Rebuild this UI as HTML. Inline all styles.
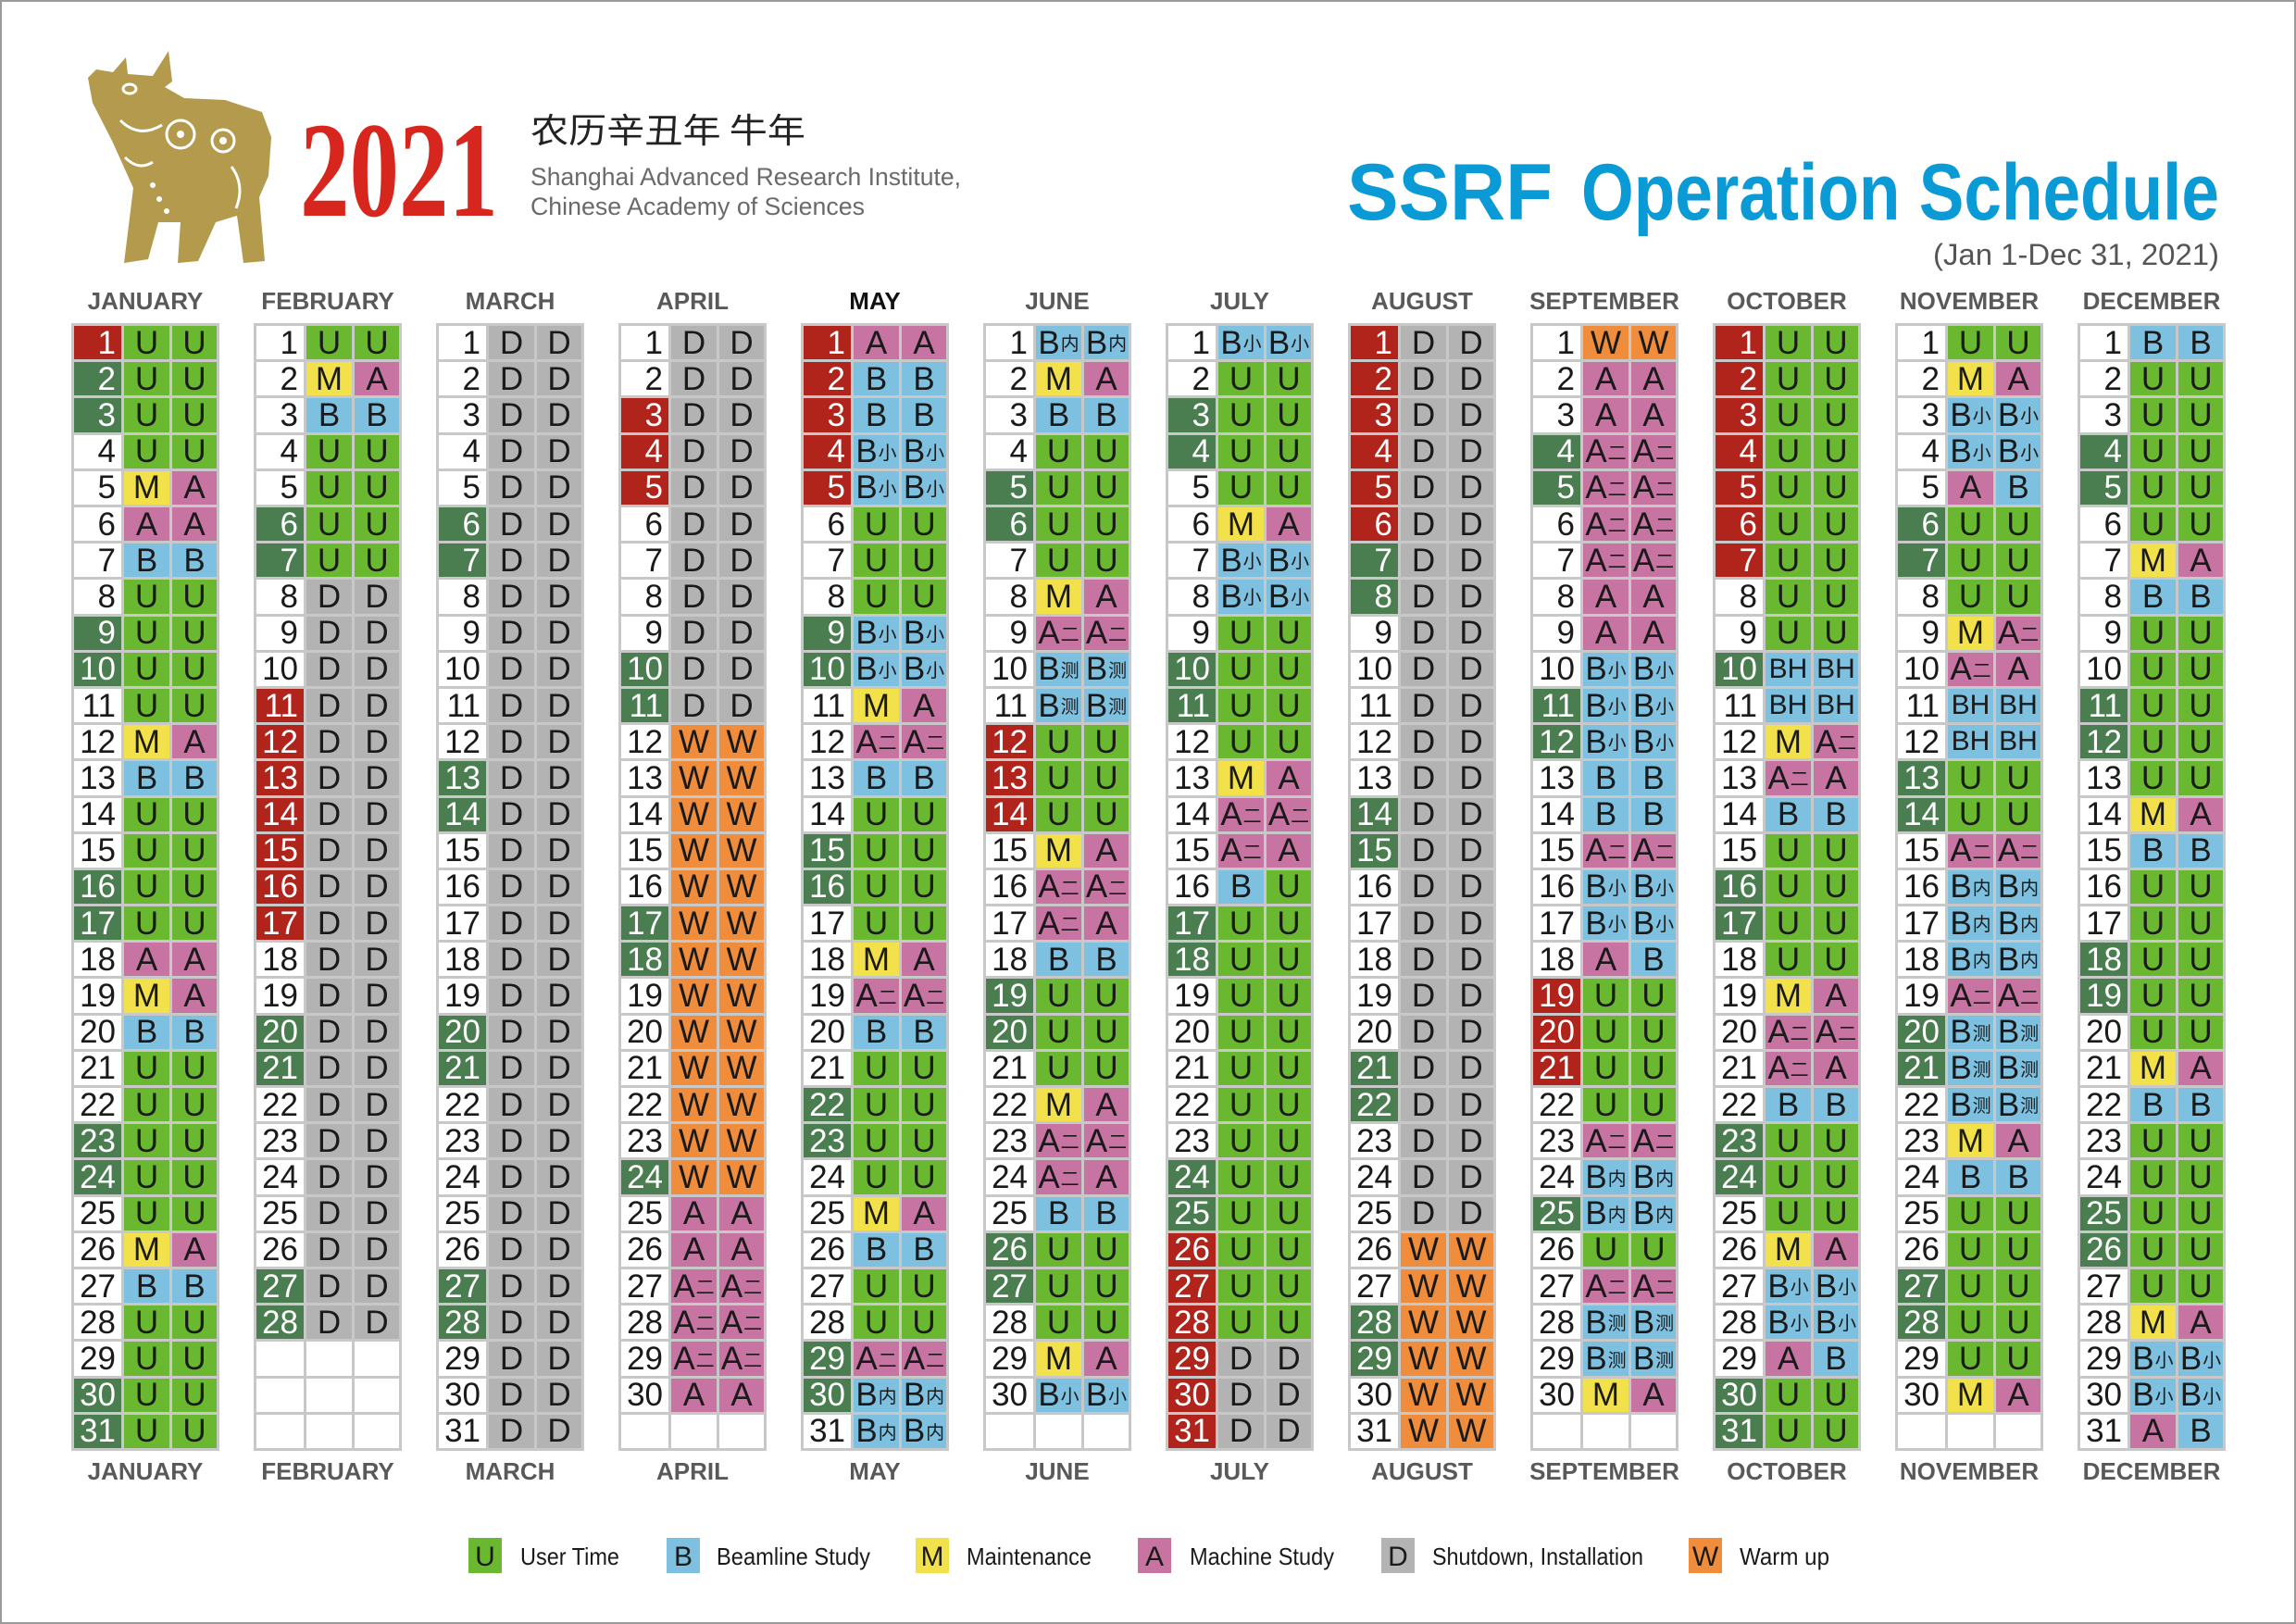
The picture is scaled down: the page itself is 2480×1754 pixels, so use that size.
<!DOCTYPE html>
<html><head><meta charset="utf-8"><style>
body{margin:0;width:2480px;height:1754px;background:#fff;position:relative;overflow:hidden;font-family:"Liberation Sans","Noto Sans CJK SC",sans-serif}
#frame{position:absolute;left:0;top:0;width:2476px;height:1750px;border:2px solid #9a9a9a}
svg.top{position:absolute;left:0;top:0}
.mo{position:absolute;top:349px;width:154px;height:1212px;padding:3px;background:#c8c8c8;display:grid;grid-template-columns:51px 49px 48px;grid-template-rows:repeat(31,1fr);gap:3px}
.mo>*{display:flex;align-items:center;justify-content:center;font-size:35px;color:#1a1a1a;font-style:normal;font-weight:normal;text-decoration:none;line-height:1;overflow:hidden;white-space:nowrap}
.mo>i{background:#fff;justify-content:flex-end;padding-right:6px}
.mo>i.h{background:#b0241c;color:#fff}
.mo>i.w{background:#4a7d4f;color:#fff}
.mo>i.e,.mo>b.e{background:#fff}
.u{background:#69b82f}.b{background:#7ec0e0}.m{background:#f2e14b}.a{background:#c874a2}.d{background:#b3b3b3}.o{background:#ef8d3d}
.mo s{text-decoration:none;font-size:20px;font-family:"Noto Sans CJK SC",sans-serif;margin-left:1px}
.mo b.t{font-size:30px}
</style></head><body>
<div id="frame"></div>
<svg class="top" width="2480" height="1754" viewBox="0 0 2480 1754">
<path fill="#b49a4c" d="M95,84 L104,75 L122,78 L136,62 L138,80 L165,82 L182,55 L186,88 L178,94 L199,106 L243,108 L283,121 L293,148 L290,190 L280,213 L286,282 L263,284 L256,233 L233,240 L214,282 L192,284 L195,240 L171,240 L160,280 L134,284 L144,203 L121,152 L100,111 Z"/>
<g fill="none" stroke="#fff" stroke-width="3"><circle cx="195" cy="145" r="15"/><circle cx="241" cy="152" r="12"/><ellipse cx="140" cy="96" rx="7" ry="5"/><path d="M130,130 Q150,150 175,135"/><path d="M135,170 Q150,185 165,175"/><path d="M250,180 Q265,200 255,225"/></g>
<g fill="#fff"><circle cx="195" cy="145" r="4"/><circle cx="241" cy="152" r="4"/><circle cx="165" cy="200" r="3"/><circle cx="172" cy="215" r="3"/><circle cx="180" cy="228" r="3"/></g>
<text x="324" y="233" font-family="Liberation Serif" font-weight="bold" font-size="147" fill="#d7261e" textLength="214" lengthAdjust="spacingAndGlyphs">2021</text>
<text x="573" y="154" font-family="Noto Sans CJK SC" font-size="37" fill="#222" textLength="297" lengthAdjust="spacingAndGlyphs">农历辛丑年 牛年</text>
<text x="573" y="200" font-family="Liberation Sans" font-size="27" fill="#6a6a6a" textLength="465" lengthAdjust="spacingAndGlyphs">Shanghai Advanced Research Institute,</text>
<text x="573" y="232" font-family="Liberation Sans" font-size="27" fill="#6a6a6a" textLength="361" lengthAdjust="spacingAndGlyphs">Chinese Academy of Sciences</text>
<text x="1455" y="237" font-family="Liberation Sans" font-weight="bold" font-size="86" fill="#0a9ad6" textLength="222" lengthAdjust="spacingAndGlyphs">SSRF</text>
<text x="1708" y="237" font-family="Liberation Sans" font-weight="bold" font-size="86" fill="#0a9ad6" textLength="689" lengthAdjust="spacingAndGlyphs">Operation Schedule</text>
<text x="2088" y="286" font-family="Liberation Sans" font-size="32" fill="#555" textLength="309" lengthAdjust="spacingAndGlyphs">(Jan 1-Dec 31, 2021)</text>
<g font-family="Liberation Sans" font-weight="bold" font-size="26" fill="#595959" text-anchor="middle">
<text x="157" y="334">JANUARY</text><text x="354" y="334">FEBRUARY</text><text x="551" y="334">MARCH</text><text x="748" y="334">APRIL</text><text x="945" y="334" fill="#111">MAY</text><text x="1142" y="334">JUNE</text><text x="1339" y="334">JULY</text><text x="1536" y="334">AUGUST</text><text x="1733" y="334">SEPTEMBER</text><text x="1930" y="334">OCTOBER</text><text x="2127" y="334">NOVEMBER</text><text x="2324" y="334">DECEMBER</text>
<text x="157" y="1598">JANUARY</text><text x="354" y="1598">FEBRUARY</text><text x="551" y="1598">MARCH</text><text x="748" y="1598">APRIL</text><text x="945" y="1598">MAY</text><text x="1142" y="1598">JUNE</text><text x="1339" y="1598">JULY</text><text x="1536" y="1598">AUGUST</text><text x="1733" y="1598">SEPTEMBER</text><text x="1930" y="1598">OCTOBER</text><text x="2127" y="1598">NOVEMBER</text><text x="2324" y="1598">DECEMBER</text>
</g>
<g font-family="Liberation Sans" font-size="30" fill="#1a1a1a" text-anchor="middle">
<rect x="506" y="1661" width="36" height="38" fill="#69b82f"/><text x="524" y="1691">U</text>
<rect x="720" y="1661" width="36" height="38" fill="#7ec0e0"/><text x="738" y="1691">B</text>
<rect x="989" y="1661" width="36" height="38" fill="#f2e14b"/><text x="1007" y="1691">M</text>
<rect x="1229" y="1661" width="36" height="38" fill="#c874a2"/><text x="1247" y="1691">A</text>
<rect x="1492" y="1661" width="36" height="38" fill="#b3b3b3"/><text x="1510" y="1691">D</text>
<rect x="1824" y="1661" width="36" height="38" fill="#ef8d3d"/><text x="1842" y="1691">W</text>
</g>
<g font-family="Liberation Sans" font-size="26" fill="#1a1a1a">
<text x="562" y="1690" textLength="107" lengthAdjust="spacingAndGlyphs">User Time</text>
<text x="774" y="1690" textLength="166" lengthAdjust="spacingAndGlyphs">Beamline Study</text>
<text x="1044" y="1690" textLength="135" lengthAdjust="spacingAndGlyphs">Maintenance</text>
<text x="1285" y="1690" textLength="156" lengthAdjust="spacingAndGlyphs">Machine Study</text>
<text x="1547" y="1690" textLength="228" lengthAdjust="spacingAndGlyphs">Shutdown, Installation</text>
<text x="1879" y="1690" textLength="97" lengthAdjust="spacingAndGlyphs">Warm up</text>
</g>
</svg>

<!-- JANUARY -->
<div class="mo" style="left:77px">
<i class=h>1</i><b class=u>U</b><b class=u>U</b>
<i class=w>2</i><b class=u>U</b><b class=u>U</b>
<i class=w>3</i><b class=u>U</b><b class=u>U</b>
<i>4</i><b class=u>U</b><b class=u>U</b>
<i>5</i><b class=m>M</b><b class=a>A</b>
<i>6</i><b class=a>A</b><b class=a>A</b>
<i>7</i><b class=b>B</b><b class=b>B</b>
<i>8</i><b class=u>U</b><b class=u>U</b>
<i class=w>9</i><b class=u>U</b><b class=u>U</b>
<i class=w>10</i><b class=u>U</b><b class=u>U</b>
<i>11</i><b class=u>U</b><b class=u>U</b>
<i>12</i><b class=m>M</b><b class=a>A</b>
<i>13</i><b class=b>B</b><b class=b>B</b>
<i>14</i><b class=u>U</b><b class=u>U</b>
<i>15</i><b class=u>U</b><b class=u>U</b>
<i class=w>16</i><b class=u>U</b><b class=u>U</b>
<i class=w>17</i><b class=u>U</b><b class=u>U</b>
<i>18</i><b class=a>A</b><b class=a>A</b>
<i>19</i><b class=m>M</b><b class=a>A</b>
<i>20</i><b class=b>B</b><b class=b>B</b>
<i>21</i><b class=u>U</b><b class=u>U</b>
<i>22</i><b class=u>U</b><b class=u>U</b>
<i class=w>23</i><b class=u>U</b><b class=u>U</b>
<i class=w>24</i><b class=u>U</b><b class=u>U</b>
<i>25</i><b class=u>U</b><b class=u>U</b>
<i>26</i><b class=m>M</b><b class=a>A</b>
<i>27</i><b class=b>B</b><b class=b>B</b>
<i>28</i><b class=u>U</b><b class=u>U</b>
<i>29</i><b class=u>U</b><b class=u>U</b>
<i class=w>30</i><b class=u>U</b><b class=u>U</b>
<i class=w>31</i><b class=u>U</b><b class=u>U</b>
</div>

<!-- FEBRUARY -->
<div class="mo" style="left:274px">
<i>1</i><b class=u>U</b><b class=u>U</b>
<i>2</i><b class=m>M</b><b class=a>A</b>
<i>3</i><b class=b>B</b><b class=b>B</b>
<i>4</i><b class=u>U</b><b class=u>U</b>
<i>5</i><b class=u>U</b><b class=u>U</b>
<i class=w>6</i><b class=u>U</b><b class=u>U</b>
<i class=w>7</i><b class=u>U</b><b class=u>U</b>
<i>8</i><b class=d>D</b><b class=d>D</b>
<i>9</i><b class=d>D</b><b class=d>D</b>
<i>10</i><b class=d>D</b><b class=d>D</b>
<i class=h>11</i><b class=d>D</b><b class=d>D</b>
<i class=h>12</i><b class=d>D</b><b class=d>D</b>
<i class=h>13</i><b class=d>D</b><b class=d>D</b>
<i class=h>14</i><b class=d>D</b><b class=d>D</b>
<i class=h>15</i><b class=d>D</b><b class=d>D</b>
<i class=h>16</i><b class=d>D</b><b class=d>D</b>
<i class=h>17</i><b class=d>D</b><b class=d>D</b>
<i>18</i><b class=d>D</b><b class=d>D</b>
<i>19</i><b class=d>D</b><b class=d>D</b>
<i class=w>20</i><b class=d>D</b><b class=d>D</b>
<i class=w>21</i><b class=d>D</b><b class=d>D</b>
<i>22</i><b class=d>D</b><b class=d>D</b>
<i>23</i><b class=d>D</b><b class=d>D</b>
<i>24</i><b class=d>D</b><b class=d>D</b>
<i>25</i><b class=d>D</b><b class=d>D</b>
<i>26</i><b class=d>D</b><b class=d>D</b>
<i class=w>27</i><b class=d>D</b><b class=d>D</b>
<i class=w>28</i><b class=d>D</b><b class=d>D</b>
<i class=e></i><b class=e></b><b class=e></b>
<i class=e></i><b class=e></b><b class=e></b>
<i class=e></i><b class=e></b><b class=e></b>
</div>

<!-- MARCH -->
<div class="mo" style="left:471px">
<i>1</i><b class=d>D</b><b class=d>D</b>
<i>2</i><b class=d>D</b><b class=d>D</b>
<i>3</i><b class=d>D</b><b class=d>D</b>
<i>4</i><b class=d>D</b><b class=d>D</b>
<i>5</i><b class=d>D</b><b class=d>D</b>
<i class=w>6</i><b class=d>D</b><b class=d>D</b>
<i class=w>7</i><b class=d>D</b><b class=d>D</b>
<i>8</i><b class=d>D</b><b class=d>D</b>
<i>9</i><b class=d>D</b><b class=d>D</b>
<i>10</i><b class=d>D</b><b class=d>D</b>
<i>11</i><b class=d>D</b><b class=d>D</b>
<i>12</i><b class=d>D</b><b class=d>D</b>
<i class=w>13</i><b class=d>D</b><b class=d>D</b>
<i class=w>14</i><b class=d>D</b><b class=d>D</b>
<i>15</i><b class=d>D</b><b class=d>D</b>
<i>16</i><b class=d>D</b><b class=d>D</b>
<i>17</i><b class=d>D</b><b class=d>D</b>
<i>18</i><b class=d>D</b><b class=d>D</b>
<i>19</i><b class=d>D</b><b class=d>D</b>
<i class=w>20</i><b class=d>D</b><b class=d>D</b>
<i class=w>21</i><b class=d>D</b><b class=d>D</b>
<i>22</i><b class=d>D</b><b class=d>D</b>
<i>23</i><b class=d>D</b><b class=d>D</b>
<i>24</i><b class=d>D</b><b class=d>D</b>
<i>25</i><b class=d>D</b><b class=d>D</b>
<i>26</i><b class=d>D</b><b class=d>D</b>
<i class=w>27</i><b class=d>D</b><b class=d>D</b>
<i class=w>28</i><b class=d>D</b><b class=d>D</b>
<i>29</i><b class=d>D</b><b class=d>D</b>
<i>30</i><b class=d>D</b><b class=d>D</b>
<i>31</i><b class=d>D</b><b class=d>D</b>
</div>

<!-- APRIL -->
<div class="mo" style="left:668px">
<i>1</i><b class=d>D</b><b class=d>D</b>
<i>2</i><b class=d>D</b><b class=d>D</b>
<i class=h>3</i><b class=d>D</b><b class=d>D</b>
<i class=h>4</i><b class=d>D</b><b class=d>D</b>
<i class=h>5</i><b class=d>D</b><b class=d>D</b>
<i>6</i><b class=d>D</b><b class=d>D</b>
<i>7</i><b class=d>D</b><b class=d>D</b>
<i>8</i><b class=d>D</b><b class=d>D</b>
<i>9</i><b class=d>D</b><b class=d>D</b>
<i class=w>10</i><b class=d>D</b><b class=d>D</b>
<i class=w>11</i><b class=d>D</b><b class=d>D</b>
<i>12</i><b class=o>W</b><b class=o>W</b>
<i>13</i><b class=o>W</b><b class=o>W</b>
<i>14</i><b class=o>W</b><b class=o>W</b>
<i>15</i><b class=o>W</b><b class=o>W</b>
<i>16</i><b class=o>W</b><b class=o>W</b>
<i class=w>17</i><b class=o>W</b><b class=o>W</b>
<i class=w>18</i><b class=o>W</b><b class=o>W</b>
<i>19</i><b class=o>W</b><b class=o>W</b>
<i>20</i><b class=o>W</b><b class=o>W</b>
<i>21</i><b class=o>W</b><b class=o>W</b>
<i>22</i><b class=o>W</b><b class=o>W</b>
<i>23</i><b class=o>W</b><b class=o>W</b>
<i class=w>24</i><b class=o>W</b><b class=o>W</b>
<i>25</i><b class=a>A</b><b class=a>A</b>
<i>26</i><b class=a>A</b><b class=a>A</b>
<i>27</i><b class=a>A<s>二</s></b><b class=a>A<s>二</s></b>
<i>28</i><b class=a>A<s>二</s></b><b class=a>A<s>二</s></b>
<i>29</i><b class=a>A<s>二</s></b><b class=a>A<s>二</s></b>
<i>30</i><b class=a>A</b><b class=a>A</b>
<i class=e></i><b class=e></b><b class=e></b>
</div>

<!-- MAY -->
<div class="mo" style="left:865px">
<i class=h>1</i><b class=a>A</b><b class=a>A</b>
<i class=h>2</i><b class=b>B</b><b class=b>B</b>
<i class=h>3</i><b class=b>B</b><b class=b>B</b>
<i class=h>4</i><b class=b>B<s>小</s></b><b class=b>B<s>小</s></b>
<i class=h>5</i><b class=b>B<s>小</s></b><b class=b>B<s>小</s></b>
<i>6</i><b class=u>U</b><b class=u>U</b>
<i>7</i><b class=u>U</b><b class=u>U</b>
<i>8</i><b class=u>U</b><b class=u>U</b>
<i class=w>9</i><b class=b>B<s>小</s></b><b class=b>B<s>小</s></b>
<i class=w>10</i><b class=b>B<s>小</s></b><b class=b>B<s>小</s></b>
<i>11</i><b class=m>M</b><b class=a>A</b>
<i>12</i><b class=a>A<s>二</s></b><b class=a>A<s>二</s></b>
<i>13</i><b class=b>B</b><b class=b>B</b>
<i>14</i><b class=u>U</b><b class=u>U</b>
<i class=w>15</i><b class=u>U</b><b class=u>U</b>
<i class=w>16</i><b class=u>U</b><b class=u>U</b>
<i>17</i><b class=u>U</b><b class=u>U</b>
<i>18</i><b class=m>M</b><b class=a>A</b>
<i>19</i><b class=a>A<s>二</s></b><b class=a>A<s>二</s></b>
<i>20</i><b class=b>B</b><b class=b>B</b>
<i>21</i><b class=u>U</b><b class=u>U</b>
<i class=w>22</i><b class=u>U</b><b class=u>U</b>
<i class=w>23</i><b class=u>U</b><b class=u>U</b>
<i>24</i><b class=u>U</b><b class=u>U</b>
<i>25</i><b class=m>M</b><b class=a>A</b>
<i>26</i><b class=b>B</b><b class=b>B</b>
<i>27</i><b class=u>U</b><b class=u>U</b>
<i>28</i><b class=u>U</b><b class=u>U</b>
<i class=w>29</i><b class=a>A<s>二</s></b><b class=a>A<s>二</s></b>
<i class=w>30</i><b class=b>B<s>内</s></b><b class=b>B<s>内</s></b>
<i>31</i><b class=b>B<s>内</s></b><b class=b>B<s>内</s></b>
</div>

<!-- JUNE -->
<div class="mo" style="left:1062px">
<i>1</i><b class=b>B<s>内</s></b><b class=b>B<s>内</s></b>
<i>2</i><b class=m>M</b><b class=a>A</b>
<i>3</i><b class=b>B</b><b class=b>B</b>
<i>4</i><b class=u>U</b><b class=u>U</b>
<i class=w>5</i><b class=u>U</b><b class=u>U</b>
<i class=w>6</i><b class=u>U</b><b class=u>U</b>
<i>7</i><b class=u>U</b><b class=u>U</b>
<i>8</i><b class=m>M</b><b class=a>A</b>
<i>9</i><b class=a>A<s>二</s></b><b class=a>A<s>二</s></b>
<i>10</i><b class=b>B<s>测</s></b><b class=b>B<s>测</s></b>
<i>11</i><b class=b>B<s>测</s></b><b class=b>B<s>测</s></b>
<i class=h>12</i><b class=u>U</b><b class=u>U</b>
<i class=h>13</i><b class=u>U</b><b class=u>U</b>
<i class=h>14</i><b class=u>U</b><b class=u>U</b>
<i>15</i><b class=m>M</b><b class=a>A</b>
<i>16</i><b class=a>A<s>二</s></b><b class=a>A<s>二</s></b>
<i>17</i><b class=a>A<s>二</s></b><b class=a>A</b>
<i>18</i><b class=b>B</b><b class=b>B</b>
<i class=w>19</i><b class=u>U</b><b class=u>U</b>
<i class=w>20</i><b class=u>U</b><b class=u>U</b>
<i>21</i><b class=u>U</b><b class=u>U</b>
<i>22</i><b class=m>M</b><b class=a>A</b>
<i>23</i><b class=a>A<s>二</s></b><b class=a>A<s>二</s></b>
<i>24</i><b class=a>A<s>二</s></b><b class=a>A</b>
<i>25</i><b class=b>B</b><b class=b>B</b>
<i class=w>26</i><b class=u>U</b><b class=u>U</b>
<i class=w>27</i><b class=u>U</b><b class=u>U</b>
<i>28</i><b class=u>U</b><b class=u>U</b>
<i>29</i><b class=m>M</b><b class=a>A</b>
<i>30</i><b class=b>B<s>小</s></b><b class=b>B<s>小</s></b>
<i class=e></i><b class=e></b><b class=e></b>
</div>

<!-- JULY -->
<div class="mo" style="left:1259px">
<i>1</i><b class=b>B<s>小</s></b><b class=b>B<s>小</s></b>
<i>2</i><b class=u>U</b><b class=u>U</b>
<i class=w>3</i><b class=u>U</b><b class=u>U</b>
<i class=w>4</i><b class=u>U</b><b class=u>U</b>
<i>5</i><b class=u>U</b><b class=u>U</b>
<i>6</i><b class=m>M</b><b class=a>A</b>
<i>7</i><b class=b>B<s>小</s></b><b class=b>B<s>小</s></b>
<i>8</i><b class=b>B<s>小</s></b><b class=b>B<s>小</s></b>
<i>9</i><b class=u>U</b><b class=u>U</b>
<i class=w>10</i><b class=u>U</b><b class=u>U</b>
<i class=w>11</i><b class=u>U</b><b class=u>U</b>
<i>12</i><b class=u>U</b><b class=u>U</b>
<i>13</i><b class=m>M</b><b class=a>A</b>
<i>14</i><b class=a>A<s>二</s></b><b class=a>A<s>二</s></b>
<i>15</i><b class=a>A<s>二</s></b><b class=a>A</b>
<i>16</i><b class=b>B</b><b class=u>U</b>
<i class=w>17</i><b class=u>U</b><b class=u>U</b>
<i class=w>18</i><b class=u>U</b><b class=u>U</b>
<i>19</i><b class=u>U</b><b class=u>U</b>
<i>20</i><b class=u>U</b><b class=u>U</b>
<i>21</i><b class=u>U</b><b class=u>U</b>
<i>22</i><b class=u>U</b><b class=u>U</b>
<i>23</i><b class=u>U</b><b class=u>U</b>
<i class=w>24</i><b class=u>U</b><b class=u>U</b>
<i class=w>25</i><b class=u>U</b><b class=u>U</b>
<i class=h>26</i><b class=u>U</b><b class=u>U</b>
<i class=h>27</i><b class=u>U</b><b class=u>U</b>
<i class=h>28</i><b class=u>U</b><b class=u>U</b>
<i class=h>29</i><b class=d>D</b><b class=d>D</b>
<i class=h>30</i><b class=d>D</b><b class=d>D</b>
<i class=h>31</i><b class=d>D</b><b class=d>D</b>
</div>

<!-- AUGUST -->
<div class="mo" style="left:1456px">
<i class=h>1</i><b class=d>D</b><b class=d>D</b>
<i class=h>2</i><b class=d>D</b><b class=d>D</b>
<i class=h>3</i><b class=d>D</b><b class=d>D</b>
<i class=h>4</i><b class=d>D</b><b class=d>D</b>
<i class=h>5</i><b class=d>D</b><b class=d>D</b>
<i class=h>6</i><b class=d>D</b><b class=d>D</b>
<i class=w>7</i><b class=d>D</b><b class=d>D</b>
<i class=w>8</i><b class=d>D</b><b class=d>D</b>
<i>9</i><b class=d>D</b><b class=d>D</b>
<i>10</i><b class=d>D</b><b class=d>D</b>
<i>11</i><b class=d>D</b><b class=d>D</b>
<i>12</i><b class=d>D</b><b class=d>D</b>
<i>13</i><b class=d>D</b><b class=d>D</b>
<i class=w>14</i><b class=d>D</b><b class=d>D</b>
<i class=w>15</i><b class=d>D</b><b class=d>D</b>
<i>16</i><b class=d>D</b><b class=d>D</b>
<i>17</i><b class=d>D</b><b class=d>D</b>
<i>18</i><b class=d>D</b><b class=d>D</b>
<i>19</i><b class=d>D</b><b class=d>D</b>
<i>20</i><b class=d>D</b><b class=d>D</b>
<i class=w>21</i><b class=d>D</b><b class=d>D</b>
<i class=w>22</i><b class=d>D</b><b class=d>D</b>
<i>23</i><b class=d>D</b><b class=d>D</b>
<i>24</i><b class=d>D</b><b class=d>D</b>
<i>25</i><b class=d>D</b><b class=d>D</b>
<i>26</i><b class=o>W</b><b class=o>W</b>
<i>27</i><b class=o>W</b><b class=o>W</b>
<i class=w>28</i><b class=o>W</b><b class=o>W</b>
<i class=w>29</i><b class=o>W</b><b class=o>W</b>
<i>30</i><b class=o>W</b><b class=o>W</b>
<i>31</i><b class=o>W</b><b class=o>W</b>
</div>

<!-- SEPTEMBER -->
<div class="mo" style="left:1653px">
<i>1</i><b class=o>W</b><b class=o>W</b>
<i>2</i><b class=a>A</b><b class=a>A</b>
<i>3</i><b class=a>A</b><b class=a>A</b>
<i class=w>4</i><b class=a>A<s>二</s></b><b class=a>A<s>二</s></b>
<i class=w>5</i><b class=a>A<s>二</s></b><b class=a>A<s>二</s></b>
<i>6</i><b class=a>A<s>二</s></b><b class=a>A<s>二</s></b>
<i>7</i><b class=a>A<s>二</s></b><b class=a>A<s>二</s></b>
<i>8</i><b class=a>A</b><b class=a>A</b>
<i>9</i><b class=a>A</b><b class=a>A</b>
<i>10</i><b class=b>B<s>小</s></b><b class=b>B<s>小</s></b>
<i class=w>11</i><b class=b>B<s>小</s></b><b class=b>B<s>小</s></b>
<i class=w>12</i><b class=b>B<s>小</s></b><b class=b>B<s>小</s></b>
<i>13</i><b class=b>B</b><b class=b>B</b>
<i>14</i><b class=b>B</b><b class=b>B</b>
<i>15</i><b class=a>A<s>二</s></b><b class=a>A<s>二</s></b>
<i>16</i><b class=b>B<s>小</s></b><b class=b>B<s>小</s></b>
<i>17</i><b class=b>B<s>小</s></b><b class=b>B<s>小</s></b>
<i>18</i><b class=a>A</b><b class=b>B</b>
<i class=h>19</i><b class=u>U</b><b class=u>U</b>
<i class=h>20</i><b class=u>U</b><b class=u>U</b>
<i class=h>21</i><b class=u>U</b><b class=u>U</b>
<i>22</i><b class=u>U</b><b class=u>U</b>
<i>23</i><b class=a>A<s>二</s></b><b class=a>A<s>二</s></b>
<i>24</i><b class=b>B<s>内</s></b><b class=b>B<s>内</s></b>
<i class=w>25</i><b class=b>B<s>内</s></b><b class=b>B<s>内</s></b>
<i>26</i><b class=u>U</b><b class=u>U</b>
<i>27</i><b class=a>A<s>二</s></b><b class=a>A<s>二</s></b>
<i>28</i><b class=b>B<s>测</s></b><b class=b>B<s>测</s></b>
<i>29</i><b class=b>B<s>测</s></b><b class=b>B<s>测</s></b>
<i>30</i><b class=m>M</b><b class=a>A</b>
<i class=e></i><b class=e></b><b class=e></b>
</div>

<!-- OCTOBER -->
<div class="mo" style="left:1850px">
<i class=h>1</i><b class=u>U</b><b class=u>U</b>
<i class=h>2</i><b class=u>U</b><b class=u>U</b>
<i class=h>3</i><b class=u>U</b><b class=u>U</b>
<i class=h>4</i><b class=u>U</b><b class=u>U</b>
<i class=h>5</i><b class=u>U</b><b class=u>U</b>
<i class=h>6</i><b class=u>U</b><b class=u>U</b>
<i class=h>7</i><b class=u>U</b><b class=u>U</b>
<i>8</i><b class=u>U</b><b class=u>U</b>
<i>9</i><b class=u>U</b><b class=u>U</b>
<i class=w>10</i><b class="b t">BH</b><b class="b t">BH</b>
<i>11</i><b class="b t">BH</b><b class="b t">BH</b>
<i>12</i><b class=m>M</b><b class=a>A<s>二</s></b>
<i>13</i><b class=a>A<s>二</s></b><b class=a>A</b>
<i>14</i><b class=b>B</b><b class=b>B</b>
<i>15</i><b class=u>U</b><b class=u>U</b>
<i class=w>16</i><b class=u>U</b><b class=u>U</b>
<i class=w>17</i><b class=u>U</b><b class=u>U</b>
<i>18</i><b class=u>U</b><b class=u>U</b>
<i>19</i><b class=m>M</b><b class=a>A</b>
<i>20</i><b class=a>A<s>二</s></b><b class=a>A<s>二</s></b>
<i>21</i><b class=a>A<s>二</s></b><b class=a>A</b>
<i>22</i><b class=b>B</b><b class=b>B</b>
<i class=w>23</i><b class=u>U</b><b class=u>U</b>
<i class=w>24</i><b class=u>U</b><b class=u>U</b>
<i>25</i><b class=u>U</b><b class=u>U</b>
<i>26</i><b class=m>M</b><b class=a>A</b>
<i>27</i><b class=b>B<s>小</s></b><b class=b>B<s>小</s></b>
<i>28</i><b class=b>B<s>小</s></b><b class=b>B<s>小</s></b>
<i>29</i><b class=a>A</b><b class=b>B</b>
<i class=w>30</i><b class=u>U</b><b class=u>U</b>
<i class=w>31</i><b class=u>U</b><b class=u>U</b>
</div>

<!-- NOVEMBER -->
<div class="mo" style="left:2047px">
<i>1</i><b class=u>U</b><b class=u>U</b>
<i>2</i><b class=m>M</b><b class=a>A</b>
<i>3</i><b class=b>B<s>小</s></b><b class=b>B<s>小</s></b>
<i>4</i><b class=b>B<s>小</s></b><b class=b>B<s>小</s></b>
<i>5</i><b class=a>A</b><b class=b>B</b>
<i class=w>6</i><b class=u>U</b><b class=u>U</b>
<i class=w>7</i><b class=u>U</b><b class=u>U</b>
<i>8</i><b class=u>U</b><b class=u>U</b>
<i>9</i><b class=m>M</b><b class=a>A<s>二</s></b>
<i>10</i><b class=a>A<s>二</s></b><b class=a>A</b>
<i>11</i><b class="b t">BH</b><b class="b t">BH</b>
<i>12</i><b class="b t">BH</b><b class="b t">BH</b>
<i class=w>13</i><b class=u>U</b><b class=u>U</b>
<i class=w>14</i><b class=u>U</b><b class=u>U</b>
<i>15</i><b class=a>A<s>二</s></b><b class=a>A<s>二</s></b>
<i>16</i><b class=b>B<s>内</s></b><b class=b>B<s>内</s></b>
<i>17</i><b class=b>B<s>内</s></b><b class=b>B<s>内</s></b>
<i>18</i><b class=b>B<s>内</s></b><b class=b>B<s>内</s></b>
<i>19</i><b class=a>A<s>二</s></b><b class=a>A<s>二</s></b>
<i class=w>20</i><b class=b>B<s>测</s></b><b class=b>B<s>测</s></b>
<i class=w>21</i><b class=b>B<s>测</s></b><b class=b>B<s>测</s></b>
<i>22</i><b class=b>B<s>测</s></b><b class=b>B<s>测</s></b>
<i>23</i><b class=m>M</b><b class=a>A</b>
<i>24</i><b class=b>B</b><b class=b>B</b>
<i>25</i><b class=u>U</b><b class=u>U</b>
<i>26</i><b class=u>U</b><b class=u>U</b>
<i class=w>27</i><b class=u>U</b><b class=u>U</b>
<i class=w>28</i><b class=u>U</b><b class=u>U</b>
<i>29</i><b class=u>U</b><b class=u>U</b>
<i>30</i><b class=m>M</b><b class=a>A</b>
<i class=e></i><b class=e></b><b class=e></b>
</div>

<!-- DECEMBER -->
<div class="mo" style="left:2244px">
<i>1</i><b class=b>B</b><b class=b>B</b>
<i>2</i><b class=u>U</b><b class=u>U</b>
<i>3</i><b class=u>U</b><b class=u>U</b>
<i class=w>4</i><b class=u>U</b><b class=u>U</b>
<i class=w>5</i><b class=u>U</b><b class=u>U</b>
<i>6</i><b class=u>U</b><b class=u>U</b>
<i>7</i><b class=m>M</b><b class=a>A</b>
<i>8</i><b class=b>B</b><b class=b>B</b>
<i>9</i><b class=u>U</b><b class=u>U</b>
<i>10</i><b class=u>U</b><b class=u>U</b>
<i class=w>11</i><b class=u>U</b><b class=u>U</b>
<i class=w>12</i><b class=u>U</b><b class=u>U</b>
<i>13</i><b class=u>U</b><b class=u>U</b>
<i>14</i><b class=m>M</b><b class=a>A</b>
<i>15</i><b class=b>B</b><b class=b>B</b>
<i>16</i><b class=u>U</b><b class=u>U</b>
<i>17</i><b class=u>U</b><b class=u>U</b>
<i class=w>18</i><b class=u>U</b><b class=u>U</b>
<i class=w>19</i><b class=u>U</b><b class=u>U</b>
<i>20</i><b class=u>U</b><b class=u>U</b>
<i>21</i><b class=m>M</b><b class=a>A</b>
<i>22</i><b class=b>B</b><b class=b>B</b>
<i>23</i><b class=u>U</b><b class=u>U</b>
<i>24</i><b class=u>U</b><b class=u>U</b>
<i class=w>25</i><b class=u>U</b><b class=u>U</b>
<i class=w>26</i><b class=u>U</b><b class=u>U</b>
<i>27</i><b class=u>U</b><b class=u>U</b>
<i>28</i><b class=m>M</b><b class=a>A</b>
<i>29</i><b class=b>B<s>小</s></b><b class=b>B<s>小</s></b>
<i>30</i><b class=b>B<s>小</s></b><b class=b>B<s>小</s></b>
<i>31</i><b class=a>A</b><b class=b>B</b>
</div>
</body></html>
